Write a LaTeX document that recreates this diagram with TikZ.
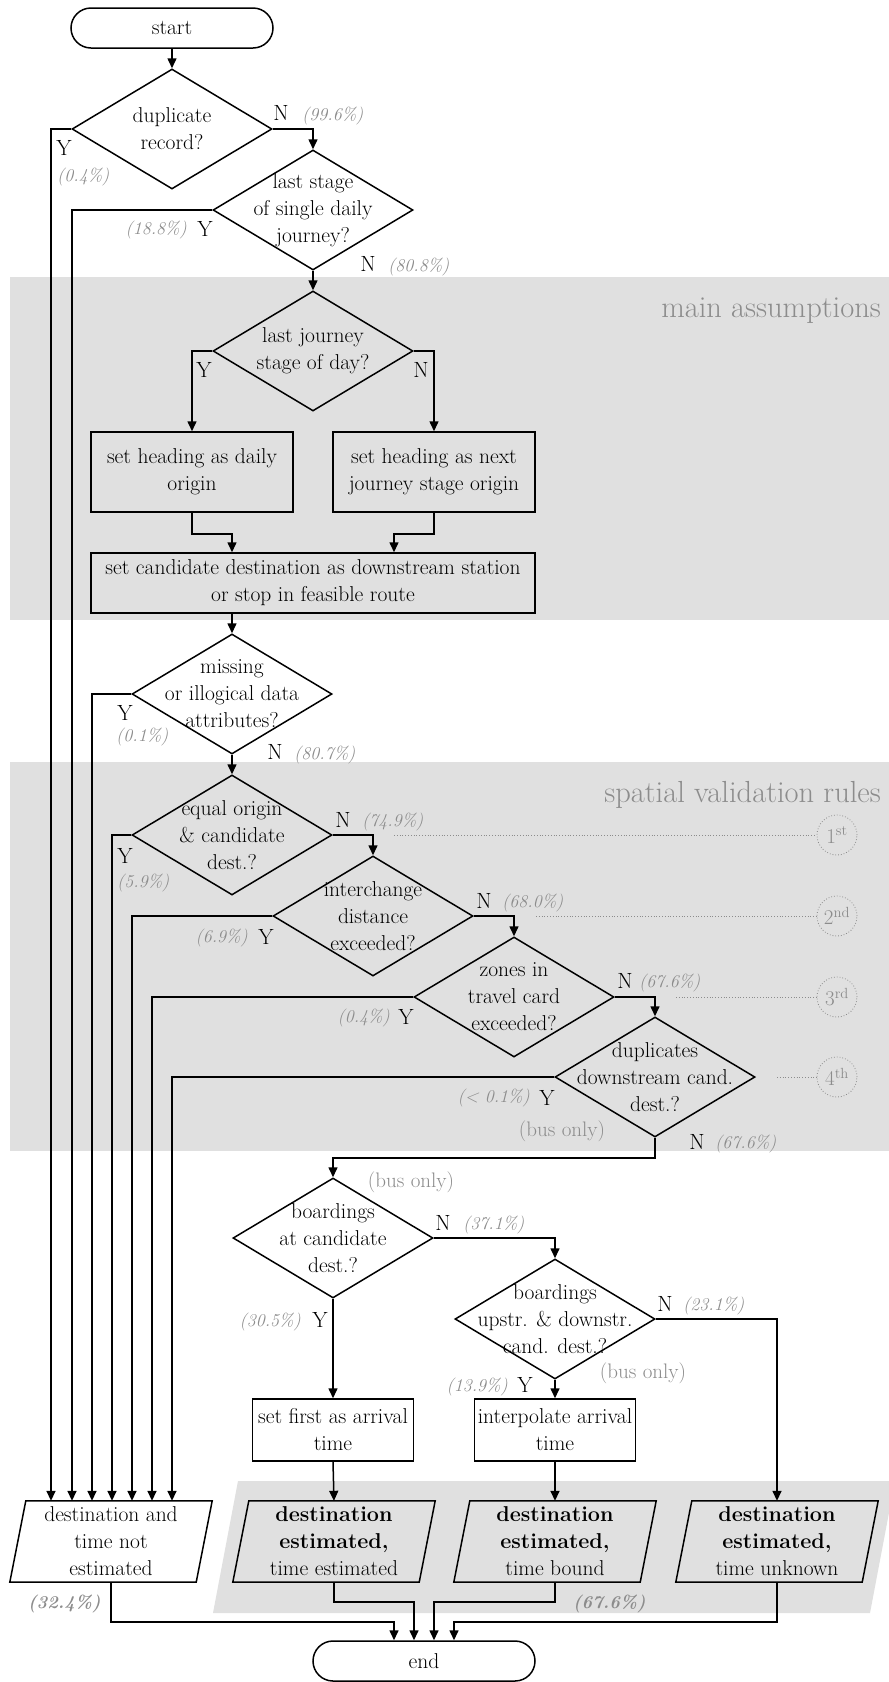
\documentclass[tikz,border=0pt]{standalone}
\usetikzlibrary{shapes.geometric,arrows.meta}
\definecolor{bandgray}{RGB}{224,224,224}
\definecolor{labgray}{RGB}{140,140,140}
\begin{document}
\begin{tikzpicture}[x=1pt,y=-1pt,
  line/.style={line width=1.5pt},
  arr/.style={line width=1.5pt, -{Triangle[length=10pt,width=9pt]}},
  body/.style={font=\fontsize{21.5}{27}\selectfont, align=center, inner sep=0pt},
  decision/.style={diamond, draw, line width=1.5pt, minimum width=200pt, minimum height=120pt, inner sep=0pt},
  stepbox/.style={rectangle, draw, line width=1.5pt, body},
  term/.style={rectangle, draw, line width=1.5pt, rounded corners=20pt, minimum height=40pt, body},
  outbox/.style={rectangle, minimum width=186pt, minimum height=81pt, body},
  yn/.style={font=\fontsize{22}{24}\selectfont, inner sep=0pt},
  pct/.style={font=\fontsize{18}{20}\selectfont\itshape, text=labgray, inner sep=0pt},
  bpct/.style={font=\fontsize{18}{20}\selectfont\bfseries\itshape, text=labgray, inner sep=0pt},
  bus/.style={font=\fontsize{21}{23}\selectfont, text=labgray, inner sep=0pt},
  title/.style={font=\fontsize{30.5}{32}\selectfont, text=labgray, inner sep=0pt},
  ordc/.style={circle, draw=labgray, dotted, line width=0.8pt, minimum size=40pt, inner sep=0pt, text=labgray, font=\fontsize{21}{22}\selectfont},
  dotline/.style={draw=labgray, dotted, line width=0.8pt}
]
\useasboundingbox[fill=white] (0,0) rectangle (889,1682);

% shaded groups
\fill[bandgray] (10,277) rectangle (889,620);
\fill[bandgray] (10,762) rectangle (889,1151);
\begin{scope}
  \clip (0,0) rectangle (889,1682);
  \fill[bandgray] (238,1481) -- (895,1481) -- (870,1613) -- (213,1613) -- cycle;
\end{scope}
\node[title, anchor=base east] (t1) at (881,317) {main assumptions};
\node[title, anchor=base east] (t2) at (881,802) {spatial validation rules};

% terminals
\node[term, minimum width=202pt] (s) at (172,28) {start};
\node[term, minimum width=222pt] (e) at (424,1661) {end};

% decisions
\node[decision, label={[body]center:{duplicate\\record?}}] (d1) at (172,129) {};
\node[decision, label={[body]center:{last stage\\of single daily\\journey?}}] (d2) at (313,210) {};
\node[decision, label={[body]center:{last journey\\stage of day?}}] (d3) at (313,351) {};
\node[decision, label={[body]center:{missing\\or illogical data\\attributes?}}] (d4) at (232,694) {};
\node[decision, label={[body]center:{equal origin\\\& candidate\\dest.?}}] (d5) at (232,835) {};
\node[decision, label={[body]center:{interchange\\distance\\exceeded?}}] (d6) at (373,916) {};
\node[decision, label={[body]center:{zones in\\travel card\\exceeded?}}] (d7) at (514,997) {};
\node[decision, label={[body]center:{duplicates\\downstream cand.\\dest.?}}] (d8) at (655,1077) {};
\node[decision, label={[body]center:{boardings\\at candidate\\dest.?}}] (d9) at (333,1238) {};
\node[decision, label={[body]center:{boardings\\upstr. \& downstr.\\cand. dest.?}}] (d10) at (555,1319) {};

% process steps
\node[stepbox, minimum width=202pt, minimum height=80pt] (b1) at (192,472) {set heading as daily\\origin};
\node[stepbox, minimum width=202pt, minimum height=80pt] (b2) at (434,472) {set heading as next\\journey stage origin};
\node[stepbox, minimum width=444pt, minimum height=60pt] (b3) at (313,583) {set candidate destination as downstream station\\or stop in feasible route};
\node[stepbox, minimum width=161pt, minimum height=62pt] (b4) at (333,1430) {set first as arrival\\time};
\node[stepbox, minimum width=161pt, minimum height=62pt] (b5) at (555,1430) {interpolate arrival\\time};

% outcomes
\node[outbox] (p1) at (111,1541.5) {destination and\\time not\\estimated};
\node[outbox] (p2) at (334,1541.5) {\textbf{destination}\\\textbf{estimated,}\\time estimated};
\node[outbox] (p3) at (555,1541.5) {\textbf{destination}\\\textbf{estimated,}\\time bound};
\node[outbox] (p4) at (777,1541.5) {\textbf{destination}\\\textbf{estimated,}\\time unknown};
\foreach \n in {p1,p2,p3,p4}
  \draw[line] ([xshift=-8pt]\n.south west) -- ([xshift=-8pt]\n.south east)
    -- ([xshift=8pt]\n.north east) -- ([xshift=8pt]\n.north west) -- cycle;

% validation rule markers
\node[ordc] (c1) at (837,835) {1\textsuperscript{st}};
\node[ordc] (c2) at (837,916) {2\textsuperscript{nd}};
\node[ordc] (c3) at (837,997) {3\textsuperscript{rd}};
\node[ordc] (c4) at (837,1077) {4\textsuperscript{th}};
\coordinate (c1s) at (394,835);
\coordinate (c2s) at (536,916);
\coordinate (c3s) at (676,997);
\coordinate (c4s) at (777,1077);
\foreach \c in {1,2,3,4} \draw[dotline] (c\c s) -- (c\c);

% main flow
\draw[arr] (s) -- (d1);
\draw[arr] (d1.east) -| (d2.north);
\draw[arr] (d2.south) -- (d3.north);
\draw[arr] (d3.west) -| (b1.north);
\draw[arr] (d3.east) -| (b2.north);
\draw[arr] (b1.south) -- ++(0,21) -| ([xshift=-81pt]b3.north);
\draw[arr] (b2.south) -- ++(0,21) -| ([xshift=81pt]b3.north);
\draw[arr] ([xshift=-81pt]b3.south) -- (d4.north);
\draw[arr] (d4.south) -- (d5.north);
\draw[arr] (d5.east) -| (d6.north);
\draw[arr] (d6.east) -| (d7.north);
\draw[arr] (d7.east) -| (d8.north);
\draw[arr] (d8.south) -- ++(0,20) -| (d9.north);
\draw[arr] (d9.east) -| (d10.north);
\draw[arr] (d10.east) -| (p4.north);
\draw[arr] (d9.south) -- (b4.north);
\draw[arr] (d10.south) -- (b5.north);
\draw[arr] (b4.south) -- (p2.north);
\draw[arr] (b5.south) -- (p3.north);

% rejected records
\draw[arr] (d1.west) -| ([xshift=-60pt]p1.north);
\draw[arr] (d2.west) -| ([xshift=-39pt]p1.north);
\draw[arr] (d4.west) -| ([xshift=-19pt]p1.north);
\draw[arr] (d5.west) -| ([xshift=1pt]p1.north);
\draw[arr] (d6.west) -| ([xshift=21pt]p1.north);
\draw[arr] (d7.west) -| ([xshift=41pt]p1.north);
\draw[arr] (d8.west) -| ([xshift=61pt]p1.north);

% to end
\draw[arr] (p1.south) -- ++(0,40) -| ([xshift=-30pt]e.north);
\draw[arr] (p2.south) -- ++(0,20) -| ([xshift=-10pt]e.north);
\draw[arr] (p3.south) -- ++(0,20) -| ([xshift=10pt]e.north);
\draw[arr] (p4.south) -- ++(0,40) -| ([xshift=30pt]e.north);

% branch labels
\node[yn] (l1y) at (64,148) {Y};
\node[pct, anchor=west] (l1yp) at (57,177) {(0.4\%)};
\node[yn] (l1n) at (281,113) {N};
\node[pct, anchor=west] (l1np) at (302,116) {(99.6\%)};

\node[pct, anchor=east] (l2yp) at (187,230) {(18.8\%)};
\node[yn] (l2y) at (205,229) {Y};
\node[yn] (l2n) at (368,264) {N};
\node[pct, anchor=west] (l2np) at (388,267) {(80.8\%)};

\node[yn] (l3y) at (204,370) {Y};
\node[yn] (l3n) at (421,370) {N};

\node[yn] (l4y) at (125,713) {Y};
\node[pct, anchor=west] (l4yp) at (116,737) {(0.1\%)};
\node[yn] (l4n) at (275,752) {N};
\node[pct, anchor=west] (l4np) at (294,755) {(80.7\%)};

\node[yn] (l5n) at (343,820) {N};
\node[pct, anchor=west] (l5np) at (362,822) {(74.9\%)};
\node[yn] (l5y) at (125,856) {Y};
\node[pct, anchor=west] (l5yp) at (117,883) {(5.9\%)};

\node[pct, anchor=east] (l6yp) at (248,938) {(6.9\%)};
\node[yn] (l6y) at (266,937) {Y};
\node[yn] (l6n) at (484,901) {N};
\node[pct, anchor=west] (l6np) at (502,903) {(68.0\%)};

\node[pct, anchor=east] (l7yp) at (390,1018) {(0.4\%)};
\node[yn] (l7y) at (406,1017) {Y};
\node[yn] (l7n) at (625,981) {N};
\node[pct, anchor=west] (l7np) at (639,983) {(67.6\%)};

\node[pct, anchor=east] (l8yp) at (530,1098) {(< 0.1\%)};
\node[yn] (l8y) at (547,1098) {Y};
\node[bus] (l8b) at (562,1131) {(bus only)};
\node[yn] (l8n) at (697,1142) {N};
\node[pct, anchor=west] (l8np) at (715,1144) {(67.6\%)};

\node[bus] (l9b) at (411,1182) {(bus only)};
\node[yn] (l9n) at (443,1223) {N};
\node[pct, anchor=west] (l9np) at (463,1225) {(37.1\%)};
\node[pct, anchor=east] (l9yp) at (301,1322) {(30.5\%)};
\node[yn] (l9y) at (320,1320) {Y};

\node[yn] (l10n) at (665,1304) {N};
\node[pct, anchor=west] (l10np) at (683,1306) {(23.1\%)};
\node[bus] (l10b) at (643,1373) {(bus only)};
\node[pct, anchor=east] (l10yp) at (508,1387) {(13.9\%)};
\node[yn] (l10y) at (525,1385) {Y};

\node[bpct, anchor=west] (tot1) at (28,1604) {(32.4\%)};
\node[bpct, anchor=west] (tot2) at (573,1604) {(67.6\%)};
\end{tikzpicture}
\end{document}
